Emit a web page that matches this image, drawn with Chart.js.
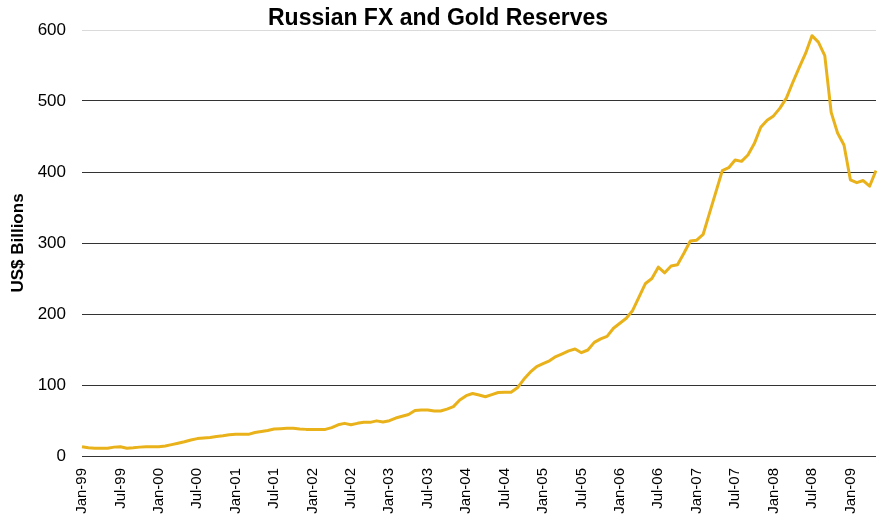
<!DOCTYPE html>
<html>
<head>
<meta charset="utf-8">
<script src="https://cdn.jsdelivr.net/npm/chart.js@4"></script>
<style>
  html, body { margin: 0; padding: 0; background: #fff; }
  #reservesChart { display: block; }
</style>
</head>
<body>
<canvas id="reservesChart" width="877" height="523"></canvas>
<script>
// Month-end reserves, US$ billions, one array per year
const reserves1999 = [13, 11.5, 11, 11, 11, 12.5, 13, 11, 11.5, 12.5, 13, 13];
const reserves2000 = [13, 14, 16, 18, 20, 22.5, 24.5, 25.5, 26, 27.5, 28.5, 30];
const reserves2001 = [30.5, 30.5, 30.5, 33, 34.5, 36, 38, 38.5, 39, 39, 38, 37.5];
const reserves2002 = [37.5, 37.5, 37.5, 40, 44, 46, 44, 46, 47.4, 47.4, 49.5, 48];
const reserves2003 = [49.7, 53.5, 56, 58.5, 64, 64.8, 64.8, 63.4, 63.4, 66, 69.5, 79];
const reserves2004 = [85, 88, 86, 83.5, 86.5, 89.5, 89.7, 89.7, 96, 108, 118, 126];
const reserves2005 = [130, 134, 140, 144, 148, 150.7, 145.5, 149.3, 160, 165, 168.5, 180];
const reserves2006 = [187, 194, 205, 224, 243, 250, 266, 258, 267.6, 269.4, 285.5, 302.8];
const reserves2007 = [304, 312, 342, 372, 402, 406, 417, 415, 424, 440, 463, 473];
const reserves2008 = [479, 490, 504, 526, 547, 567, 592, 583, 564, 484, 455, 438];
const reserves2009 = [389, 385, 388, 380, 402];

const monthNames = ['Jan', 'Feb', 'Mar', 'Apr', 'May', 'Jun', 'Jul', 'Aug', 'Sep', 'Oct', 'Nov', 'Dec'];
const years = ['99', '00', '01', '02', '03', '04', '05', '06', '07', '08', '09'];
const yTicks = [0, 100, 200, 300, 400, 500, 600];

const reserves = [].concat(reserves1999, reserves2000, reserves2001, reserves2002, reserves2003,
  reserves2004, reserves2005, reserves2006, reserves2007, reserves2008, reserves2009);

// "Jan-99" ... one label per month of data
const months = [];
years.forEach(y => monthNames.forEach(m => months.push(m + '-' + y)));
months.length = reserves.length;

const FONT = "'Liberation Sans', Arial, sans-serif";

const ctx = document.getElementById('reservesChart').getContext('2d');
new Chart(ctx, {
  type: 'line',
  data: {
    labels: months,
    datasets: [{
      label: 'FX and Gold Reserves',
      data: reserves,
      borderColor: '#E9B21B',
      borderWidth: 3,
      borderJoinStyle: 'round',
      pointRadius: 0,
      tension: 0,
      fill: false,
    }]
  },
  options: {
    responsive: false,
    animation: false,
    layout: { padding: { left: 0, right: 1, top: 0, bottom: 0 } },
    plugins: {
      legend: { display: false },
      tooltip: { enabled: false },
      title: {
        display: true,
        text: 'Russian FX and Gold Reserves',
        color: '#000',
        font: { family: FONT, size: 23, weight: 'bold', lineHeight: 1 },
        padding: { top: 7, bottom: 0 },
      },
    },
    scales: {
      x: {
        grid: { display: false },
        border: { display: false },
        ticks: {
          autoSkip: false,
          minRotation: 90,
          maxRotation: 90,
          padding: 4,
          color: '#000',
          font: { family: FONT, size: 15 },
          callback: function (value, index) {
            return index % 6 === 0 ? this.getLabelForValue(value) : null;
          },
        },
        afterFit: scale => { scale.height = 67; },
      },
      y: {
        min: 0,
        max: 600,
        afterBuildTicks: scale => { scale.ticks = yTicks.map(v => ({ value: v })); },
        grid: {
          drawTicks: false,
          color: c => (c.tick && c.tick.value === 600 ? '#dadada' : '#333'),
          lineWidth: 1,
        },
        border: { display: false },
        ticks: {
          padding: 16,
          color: '#000',
          font: { family: FONT, size: 17 },
        },
        title: {
          display: true,
          text: 'US$ Billions',
          color: '#000',
          font: { family: FONT, size: 17, weight: 'bold' },
          padding: { top: 8, bottom: 0 },
        },
        afterFit: scale => { scale.width = 82; },
      },
    },
  },
});
</script>
</body>
</html>
